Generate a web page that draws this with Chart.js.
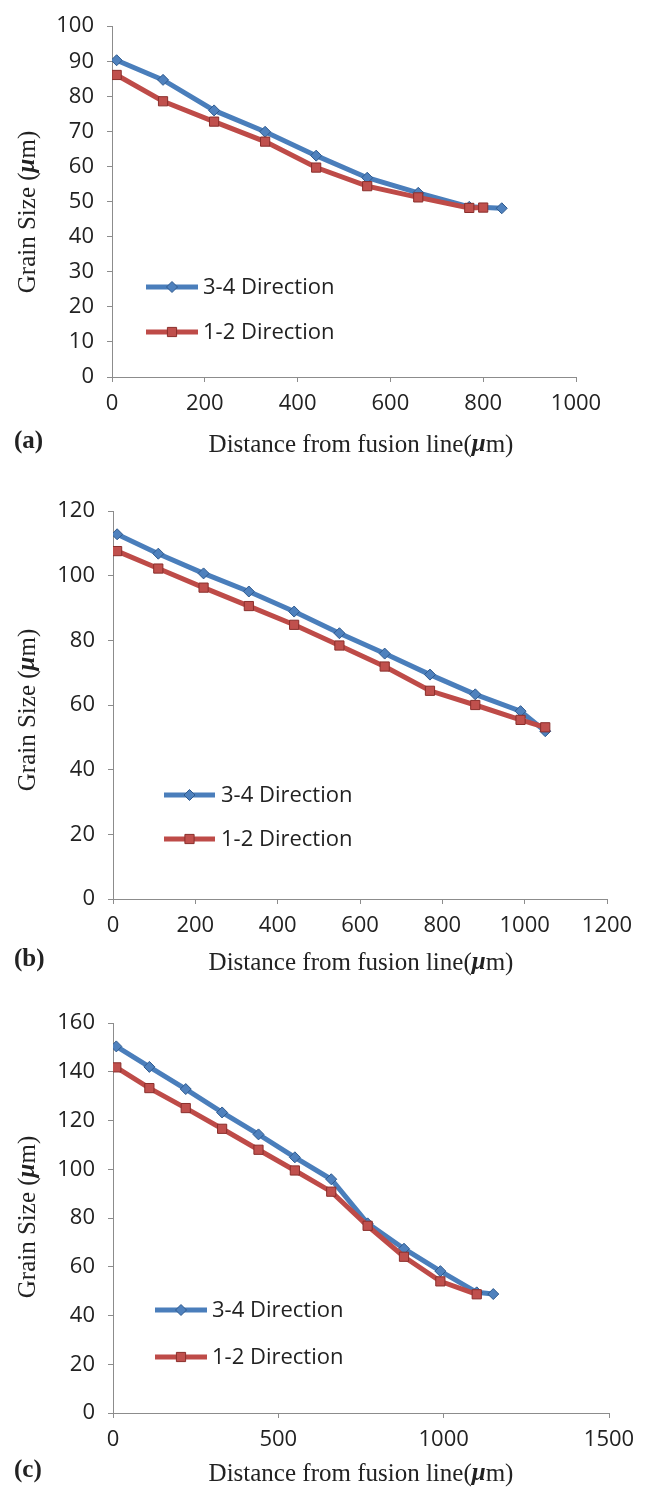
<!DOCTYPE html>
<html>
<head>
<meta charset="utf-8">
<script src="https://cdn.jsdelivr.net/npm/chart.js@4.4.1/dist/chart.umd.min.js"></script>
<style>
    body { margin: 0; background: #fff; }
    #wrap { position: relative; width: 649px; height: 1492px; }
    canvas { position: absolute; left: 0; }
</style>
</head>
<body>
<div id="wrap">
    <canvas id="chartA" width="649" height="470" style="top:0px"></canvas>
    <canvas id="chartB" width="649" height="510" style="top:470px"></canvas>
    <canvas id="chartC" width="649" height="512" style="top:980px"></canvas>
</div>
<script>
// --- DONNÉES ---
// (a)
const distA34 = [10, 110, 220, 330, 440, 550, 660, 770, 840];
const grainA34 = [90.3, 84.7, 76.0, 69.9, 63.1, 56.8, 52.5, 48.5, 48.1];
const distA12 = [10, 110, 220, 330, 440, 550, 660, 770, 800];
const grainA12 = [86.1, 78.6, 72.8, 67.1, 59.7, 54.4, 51.2, 48.2, 48.3];
const ticksA = { xMax: 1000, xStep: 200, yMax: 100, yStep: 10 };

// (b)
const distB = [10, 110, 220, 330, 440, 550, 660, 770, 880, 990, 1050];
const grainB34 = [112.8, 106.8, 100.7, 95.1, 88.9, 82.2, 75.9, 69.4, 63.3, 58.1, 51.9];
const grainB12 = [107.6, 102.2, 96.3, 90.6, 84.8, 78.4, 71.9, 64.4, 60.0, 55.4, 53.1];
const ticksB = { xMax: 1200, xStep: 200, yMax: 120, yStep: 20 };

// (c)
const distC34 = [10, 110, 220, 330, 440, 550, 660, 770, 880, 990, 1100, 1150];
const grainC34 = [150.4, 142.0, 132.9, 123.3, 114.3, 104.9, 95.9, 77.8, 67.4, 58.2, 49.5, 48.8];
const distC12 = [10, 110, 220, 330, 440, 550, 660, 770, 880, 990, 1100];
const grainC12 = [141.8, 133.3, 125.1, 116.6, 108.0, 99.5, 90.8, 76.8, 64.1, 54.0, 48.7];
const ticksC = { xMax: 1500, xStep: 500, yMax: 160, yStep: 20 };

const LABEL_34 = "3-4 Direction";
const LABEL_12 = "1-2 Direction";

// --- STYLES ---
const BLUE = "#4a7ebb", BLUE_FILL = "#4f81bd", BLUE_EDGE = "#2f5a8e";
const RED = "#be4b48", RED_FILL = "#c0504d", RED_EDGE = "#8a2f2c";
const AXIS = "#8c8c8c";
const TEXT = "#222";
const SANS = '"Open Sans", sans-serif';
const SERIF = '"Liberation Serif", "Times New Roman", serif';

function toPoints(xs, ys) {
    return xs.map((x, i) => ({ x: x, y: ys[i] }));
}

// texte avec morceaux de police différents (µ en gras italique)
function drawRich(ctx, parts, x, y) {
    let total = 0;
    parts.forEach(p => { ctx.font = p.font; total += ctx.measureText(p.text).width; });
    let cx = x - total / 2;
    ctx.textAlign = "left";
    ctx.textBaseline = "middle";
    parts.forEach(p => {
        ctx.font = p.font;
        ctx.fillText(p.text, cx, y);
        cx += ctx.measureText(p.text).width;
    });
}

// Titres, légende et lettre du panneau
const panelText = {
    id: "panelText",
    afterDraw(chart, args, o) {
        const ctx = chart.ctx;
        ctx.save();
        ctx.fillStyle = TEXT;

        // légende
        chart.data.datasets.forEach(ds => {
            const row = o.legendRows[ds.label];
            ctx.strokeStyle = ds.borderColor;
            ctx.lineWidth = ds.borderWidth;
            ctx.beginPath();
            ctx.moveTo(o.legendX[0], row);
            ctx.lineTo(o.legendX[1], row);
            ctx.stroke();
            ctx.fillStyle = ds.pointBackgroundColor;
            ctx.strokeStyle = ds.pointBorderColor;
            ctx.lineWidth = ds.pointBorderWidth;
            Chart.helpers.drawPoint(ctx, {
                pointStyle: ds.pointStyle, radius: ds.pointRadius, rotation: 0, borderWidth: ds.pointBorderWidth
            }, (o.legendX[0] + o.legendX[1]) / 2, row);
            ctx.fillStyle = TEXT;
            ctx.font = "22px " + SANS;
            ctx.textAlign = "left";
            ctx.textBaseline = "middle";
            ctx.fillText(ds.label, o.legendX[2], row + 1);
        });

        // titre axe Y
        ctx.save();
        ctx.translate(28, o.yTitle);
        ctx.rotate(-Math.PI / 2);
        drawRich(ctx, [
            { text: "Grain Size (", font: "25px " + SERIF },
            { text: "\u03bc", font: "bold italic 25px " + SERIF },
            { text: "m)", font: "25px " + SERIF }
        ], 0, 0);
        ctx.restore();

        // titre axe X
        drawRich(ctx, [
            { text: "Distance from fusion line(", font: "25px " + SERIF },
            { text: "\u03bc", font: "bold italic 25px " + SERIF },
            { text: "m)", font: "25px " + SERIF }
        ], 361, o.xTitle);

        // lettre du panneau
        ctx.font = "bold 25px " + SERIF;
        ctx.textAlign = "left";
        ctx.fillText(o.letter, 14, o.xTitle - 3);
        ctx.restore();
    }
};

function makePanel(id, cfg) {
    const canvas = document.getElementById(id);
    const ctx = canvas.getContext("2d");
    const area = cfg.area;

    const tickFont = { family: SANS, size: 22 };

    return new Chart(ctx, {
        type: "line",
        data: {
            datasets: [
                {
                    label: LABEL_34,
                    data: toPoints(cfg.x34, cfg.y34),
                    order: 1,
                    borderColor: BLUE,
                    borderWidth: 5,
                    pointStyle: "rectRot",
                    pointRadius: 5.5,
                    pointBackgroundColor: BLUE_FILL,
                    pointBorderColor: BLUE_EDGE,
                    pointBorderWidth: 1,
                    tension: 0
                },
                {
                    label: LABEL_12,
                    data: toPoints(cfg.x12, cfg.y12),
                    order: 0,
                    borderColor: RED,
                    borderWidth: 5,
                    pointStyle: "rect",
                    pointRadius: 6.5,
                    pointBackgroundColor: RED_FILL,
                    pointBorderColor: RED_EDGE,
                    pointBorderWidth: 1,
                    tension: 0
                }
            ]
        },
        options: {
            responsive: false,
            animation: false,
            devicePixelRatio: 1,
            layout: { padding: { left: 0, top: area.top, right: 649 - area.right, bottom: 0 } },
            plugins: {
                legend: { display: false },
                tooltip: { enabled: false },
                panelText: {
                    letter: cfg.letter,
                    yTitle: cfg.yTitle,
                    xTitle: cfg.xTitle,
                    legendX: cfg.legendX,
                    legendRows: { [LABEL_34]: cfg.legendRows[0], [LABEL_12]: cfg.legendRows[1] }
                }
            },
            scales: {
                x: {
                    type: "linear",
                    min: 0,
                    max: cfg.ticks.xMax,
                    ticks: {
                        stepSize: cfg.ticks.xStep, font: tickFont, color: TEXT, padding: 9, maxRotation: 0,
                        callback: v => String(v)
                    },
                    grid: { drawOnChartArea: false, tickLength: 5, color: AXIS },
                    border: { color: AXIS },
                    afterFit: s => { s.height = canvas.height - area.bottom; }
                },
                y: {
                    min: 0,
                    max: cfg.ticks.yMax,
                    ticks: {
                        stepSize: cfg.ticks.yStep, font: tickFont, color: TEXT, padding: 13,
                        callback: v => String(v)
                    },
                    grid: { drawOnChartArea: false, tickLength: 5, color: AXIS },
                    border: { color: AXIS },
                    afterFit: s => { s.width = area.left; }
                }
            }
        },
        plugins: [panelText]
    });
}

// --- INITIALISATION ---
document.addEventListener("DOMContentLoaded", () => {
    makePanel("chartA", {
        x34: distA34, y34: grainA34, x12: distA12, y12: grainA12, ticks: ticksA,
        area: { left: 112, top: 21, right: 576, bottom: 377 },
        letter: "(a)", yTitle: 212, xTitle: 445,
        legendX: [146, 198, 203], legendRows: [287, 332]
    });
    makePanel("chartB", {
        x34: distB, y34: grainB34, x12: distB, y12: grainB12, ticks: ticksB,
        area: { left: 113, top: 41, right: 607, bottom: 429 },
        letter: "(b)", yTitle: 240, xTitle: 493,
        legendX: [164, 215, 221], legendRows: [325, 369]
    });
    makePanel("chartC", {
        x34: distC34, y34: grainC34, x12: distC12, y12: grainC12, ticks: ticksC,
        area: { left: 113, top: 43, right: 609, bottom: 433 },
        letter: "(c)", yTitle: 237, xTitle: 494,
        legendX: [155, 207, 212], legendRows: [330, 377]
    });
});
</script>
</body>
</html>
